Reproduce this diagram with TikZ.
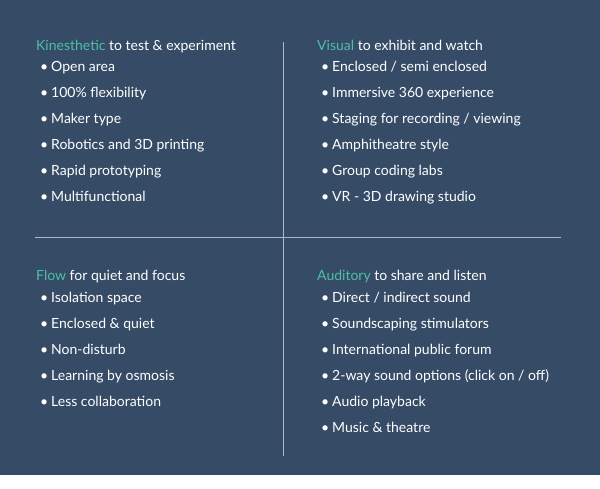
\documentclass[tikz,border=0pt]{standalone}
\usepackage{fontspec}
\setmainfont{Lato}
\definecolor{navy}{HTML}{364B66}
\definecolor{teal}{HTML}{4DBFA8}
\definecolor{rule}{HTML}{AEB8C4}
\begin{document}
\begin{tikzpicture}[x=1pt,y=-1pt,
  txt/.style={anchor=base west,inner sep=0pt,text=white,font=\fontsize{14}{16}\selectfont},
  hl/.style={text=teal}]
\useasboundingbox (0,0) rectangle (600,488);
\fill[white] (0,0) rectangle (600,488);
\fill[navy] (0,0) rectangle (600,475);
\coordinate (vt) at (283,42); \coordinate (vb) at (283,456);
\coordinate (hl) at (35,237); \coordinate (hr) at (561,237);
\draw[rule,line width=0.8pt] (vt) -- (vb);
\draw[rule,line width=0.8pt] (hl) -- (hr);
\newcommand\blockq[5]{%
  \node[txt] (#1h) at (#2,#3+5) {\textcolor{teal}{#4} to #5};}
\newcommand\items[4]{%
  \foreach \t [count=\i] in {#4} {
    \node[txt] (#1b\i) at (#2+4,#3+5+\i*26) {\textbullet};
    \node[txt] (#1t\i) at (#2+15,#3+5+\i*26) {\t};
  }}
\blockq{k}{36}{45}{Kinesthetic}{test \& experiment}
\items{k}{36}{40}{Open area,100\% flexibility,Maker type,Robotics and 3D printing,Rapid prototyping,Multifunctional}
\blockq{v}{317}{45}{Visual}{exhibit and watch}
\items{v}{317}{40}{Enclosed / semi enclosed,Immersive 360 experience,Staging for recording / viewing,Amphitheatre style,Group coding labs,VR - 3D drawing studio}
\node[txt] (fh) at (36,280) {\textcolor{teal}{Flow} for quiet and focus};
\items{f}{36}{271}{Isolation space,Enclosed \& quiet,Non-disturb,Learning by osmosis,Less collaboration}
\node[txt] (ah) at (317,280) {\textcolor{teal}{Auditory} to share and listen};
\items{a}{317}{271}{Direct / indirect sound,Soundscaping stimulators,International public forum,2-way sound options (click on / off),Audio playback,Music \& theatre}
\end{tikzpicture}
\end{document}
